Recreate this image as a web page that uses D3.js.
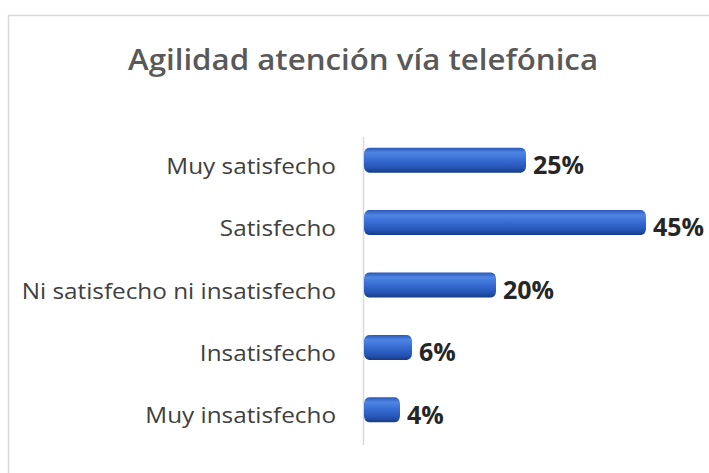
<!DOCTYPE html>
<html><head><meta charset="utf-8">
<script src="https://cdn.jsdelivr.net/npm/d3@7"></script>
<style>body{margin:0;background:#fff}svg{display:block}</style>
</head><body>
<script>
const categories = ["Muy satisfecho","Satisfecho","Ni satisfecho ni insatisfecho","Insatisfecho","Muy insatisfecho"];
const values = [25,45,20,6,4];
const valueLabels = ["25%","45%","20%","6%","4%"];
const title = "Agilidad atención vía telefónica";

const W=709,H=473;
const FONT="'Open Sans', Lato, sans-serif";
const svg=d3.select("body").append("svg").attr("width",W).attr("height",H);
const defs=svg.append("defs");
const g=defs.append("linearGradient").attr("id","cyl").attr("x1",0).attr("y1",0).attr("x2",0).attr("y2",1);
[[0,"#2a58b8"],[0.2,"#4f86e3"],[0.45,"#3a6fd6"],[0.8,"#2555b5"],[1,"#173c86"]].forEach(([o,c])=>g.append("stop").attr("offset",o).attr("stop-color",c));

svg.append("rect").attr("x",8.5).attr("y",15.5).attr("width",W+10).attr("height",H+10)
  .attr("fill","#fff").attr("stroke","#d9d9d9").attr("stroke-width",1.5);

svg.append("text").attr("x",363).attr("y",70).attr("text-anchor","middle")
  .attr("font-family",FONT).attr("font-size",28).attr("font-weight",600)
  .attr("fill","#595959").attr("textLength",470).attr("lengthAdjust","spacingAndGlyphs").text(title);

const x=d3.scaleLinear().domain([0,45]).range([370,640]);
const y=d3.scaleBand().domain(categories).range([129,441]).paddingInner(0.6).paddingOuter(0.3);

svg.append("line").attr("x1",363.5).attr("x2",363.5).attr("y1",137).attr("y2",445)
  .attr("stroke","#d9d9d9").attr("stroke-width",1.5);

const cap=6;
svg.selectAll("rect.bar").data(values).join("rect").attr("class","bar")
  .attr("x",x(0)-cap).attr("y",(d,i)=>y(categories[i]))
  .attr("width",d=>x(d)-x(0)+2*cap).attr("height",y.bandwidth())
  .attr("rx",5).attr("ry",y.bandwidth()/4)
  .attr("fill","url(#cyl)");

const cats=svg.selectAll("text.cat").data(categories).join("text").attr("class","cat")
  .attr("x",336).attr("y",d=>y(d)+y.bandwidth()/2+6).attr("dy","0.35em")
  .attr("text-anchor","end").attr("font-family",FONT).attr("font-size",21.5)
  .attr("fill","#404040").text(d=>d);
// match the reference's wide letterforms
cats.each(function(){const L=this.getComputedTextLength();d3.select(this).attr("textLength",L*1.13).attr("lengthAdjust","spacingAndGlyphs");});

svg.selectAll("text.val").data(values).join("text").attr("class","val")
  .attr("x",d=>x(d)+cap+7).attr("y",(d,i)=>y(categories[i])+y.bandwidth()/2+5).attr("dy","0.35em")
  .attr("font-family",FONT).attr("font-size",25).attr("font-weight",700)
  .attr("fill","#262626").text((d,i)=>valueLabels[i]);
</script>
</body></html>
